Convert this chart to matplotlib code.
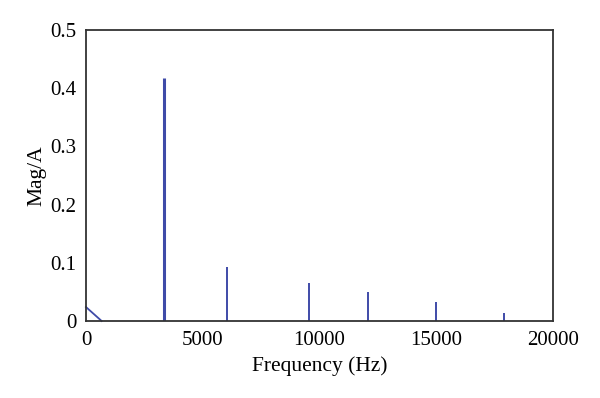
import matplotlib
matplotlib.use("Agg")
import matplotlib.pyplot as plt
import numpy as np

# Spectrum data
dc_freqs = [0, 670]
dc_mags = [0.024, 0.0]
peak_freqs = [3350, 6030, 9560, 12080, 14980, 17900]
peak_mags = [0.417, 0.092, 0.066, 0.049, 0.033, 0.014]
xticks = [0, 5000, 10000, 15000, 20000]
yticks = [0, 0.1, 0.2, 0.3, 0.4, 0.5]
ytick_labels = ["0", "0.1", "0.2", "0.3", "0.4", "0.5"]

plt.rcParams['font.family'] = ['Liberation Serif', 'DejaVu Serif']

fig = plt.figure(figsize=(6.0, 3.98), dpi=100)
ax = fig.add_axes([0.1433, 0.1935, 0.7784, 0.7311])

color = '#3F4BA8'
ax.plot(dc_freqs, dc_mags, color=color, lw=1.3, clip_on=False, zorder=3)
widths = [2.2] + [1.4] * (len(peak_freqs) - 1)
for f, m, w in zip(peak_freqs, peak_mags, widths):
    ax.plot([f, f], [0, m], color=color, lw=w, solid_capstyle='butt', zorder=3)

ax.set_xlim(0, 20000)
ax.set_ylim(0, 0.5)
ax.set_xticks(xticks)
ax.set_xticklabels([str(t) for t in xticks])
ax.set_yticks(yticks)
ax.set_yticklabels(ytick_labels)
ax.tick_params(length=0, labelsize=15, pad=7)
for s in ax.spines.values():
    s.set_color('#333333')
    s.set_linewidth(1.3)
    s.set_zorder(4)
ax.set_xlabel("Frequency (Hz)", fontsize=15.5, labelpad=5)
ax.set_ylabel("Mag/A", fontsize=15.5, labelpad=3)

fig.savefig("out.png", dpi=100)
